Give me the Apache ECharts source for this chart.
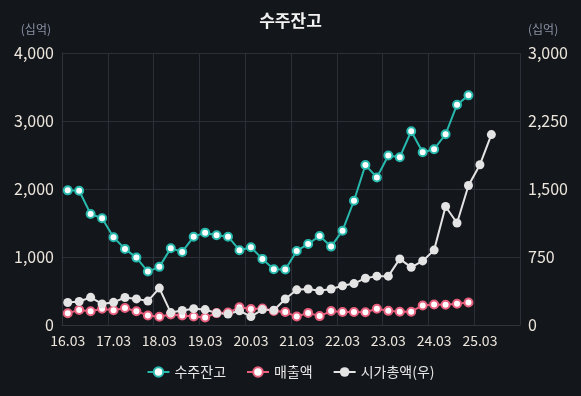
<!DOCTYPE html>
<html><head><meta charset="utf-8">
<script src="https://cdn.jsdelivr.net/npm/echarts@6/dist/echarts.min.js"></script>
<style>html,body{margin:0;padding:0;background:#13161b;}#c{width:581px;height:396px;}</style>
</head><body><div id="c"></div>
<script>
const categories = ['16.03','16.06','16.09','16.12','17.03','17.06','17.09','17.12','18.03','18.06','18.09','18.12','19.03','19.06','19.09','19.12','20.03','20.06','20.09','20.12','21.03','21.06','21.09','21.12','22.03','22.06','22.09','22.12','23.03','23.06','23.09','23.12','24.03','24.06','24.09','24.12','25.03','25.06','25.09','25.12'];
const backlog = [1980,1975,1632,1569,1290,1119,991,786,855,1129,1075,1299,1358,1320,1299,1100,1144,972,821,815,1089,1192,1309,1153,1387,1827,2352,2170,2493,2468,2849,2541,2585,2805,3240,3377];
const sales = [173,222,203,239,217,249,203,141,122,156,141,126,111,175,182,260,235,243,205,190,124,178,131,205,190,190,188,240,208,195,195,287,302,298,312,331];
const marketCap = [248,259,305,232,250,303,288,264,407,137,161,180,170,132,121,157,93,170,163,287,388,397,377,397,433,457,516,539,539,729,636,707,826,1307,1125,1538,1768,2100];
const leftTicks = [0,1000,2000,3000,4000];
const rightTicks = [0,750,1500,2250,3000];

const FONT = "'Noto Sans CJK KR','Noto Sans',sans-serif";
const fmt = v => v.toLocaleString('en-US');
const chart = echarts.init(document.getElementById('c'), null, {renderer:'canvas'});
chart.setOption({
  backgroundColor:'#13161b',
  animation:false,
  title:{text:'수주잔고', left:'center', top:7, textStyle:{color:'#f2f2f2', fontSize:17, fontWeight:'bold', fontFamily:FONT}},
  legend:{bottom:12, itemGap:20, itemWidth:22, itemHeight:12, textStyle:{color:'#e8e8e8', fontSize:14, fontFamily:FONT},
    data:['수주잔고','매출액','시가총액(우)']},
  grid:{left:62, right:61, top:53, bottom:71},
  xAxis:{type:'category', data:categories, boundaryGap:true,
    axisLine:{show:true, lineStyle:{color:'#30333b'}},
    axisTick:{show:false},
    axisLabel:{interval:3, color:'#ece6dc', fontSize:14, fontFamily:FONT, margin:9},
    splitLine:{show:true, interval:3, lineStyle:{color:'#2c2f37', width:1}}},
  yAxis:[
    {type:'value', min:leftTicks[0], max:leftTicks[leftTicks.length-1], interval:1000,
      name:'(십억)', nameLocation:'end', nameGap:18,
      nameTextStyle:{color:'#8a93a6', fontSize:12, fontFamily:FONT, align:'right', padding:[0,11,0,0]},
      axisLine:{show:true, lineStyle:{color:'#30333b'}}, axisTick:{show:false},
      axisLabel:{color:'#ece6dc', fontSize:16, fontFamily:FONT, margin:8, formatter:fmt},
      splitLine:{lineStyle:{color:'#2c2f37'}}},
    {type:'value', min:rightTicks[0], max:rightTicks[rightTicks.length-1], interval:750,
      name:'(십억)', nameLocation:'end', nameGap:18,
      nameTextStyle:{color:'#8a93a6', fontSize:12, fontFamily:FONT, align:'left', padding:[0,0,0,8]},
      axisLine:{show:false}, axisTick:{show:false},
      axisLabel:{color:'#ece6dc', fontSize:16, fontFamily:FONT, margin:8, formatter:fmt},
      splitLine:{show:false}}
  ],
  series:[
    {name:'수주잔고', type:'line', data:backlog, yAxisIndex:0, symbol:'circle', symbolSize:8, showAllSymbol:true,
      lineStyle:{color:'#27b9ad', width:2}, itemStyle:{color:'#ffffff', borderColor:'#27b9ad', borderWidth:2}, z:3},
    {name:'매출액', type:'line', data:sales, yAxisIndex:0, symbol:'circle', symbolSize:8, showAllSymbol:true,
      lineStyle:{color:'#e6607e', width:2}, itemStyle:{color:'#ffffff', borderColor:'#e6607e', borderWidth:2}, z:2},
    {name:'시가총액(우)', type:'line', data:marketCap, yAxisIndex:1, symbol:'circle', symbolSize:9, showAllSymbol:true,
      lineStyle:{color:'#e4e4e4', width:2}, itemStyle:{color:'#e4e4e4'}, z:2}
  ]
});
</script></body></html>
